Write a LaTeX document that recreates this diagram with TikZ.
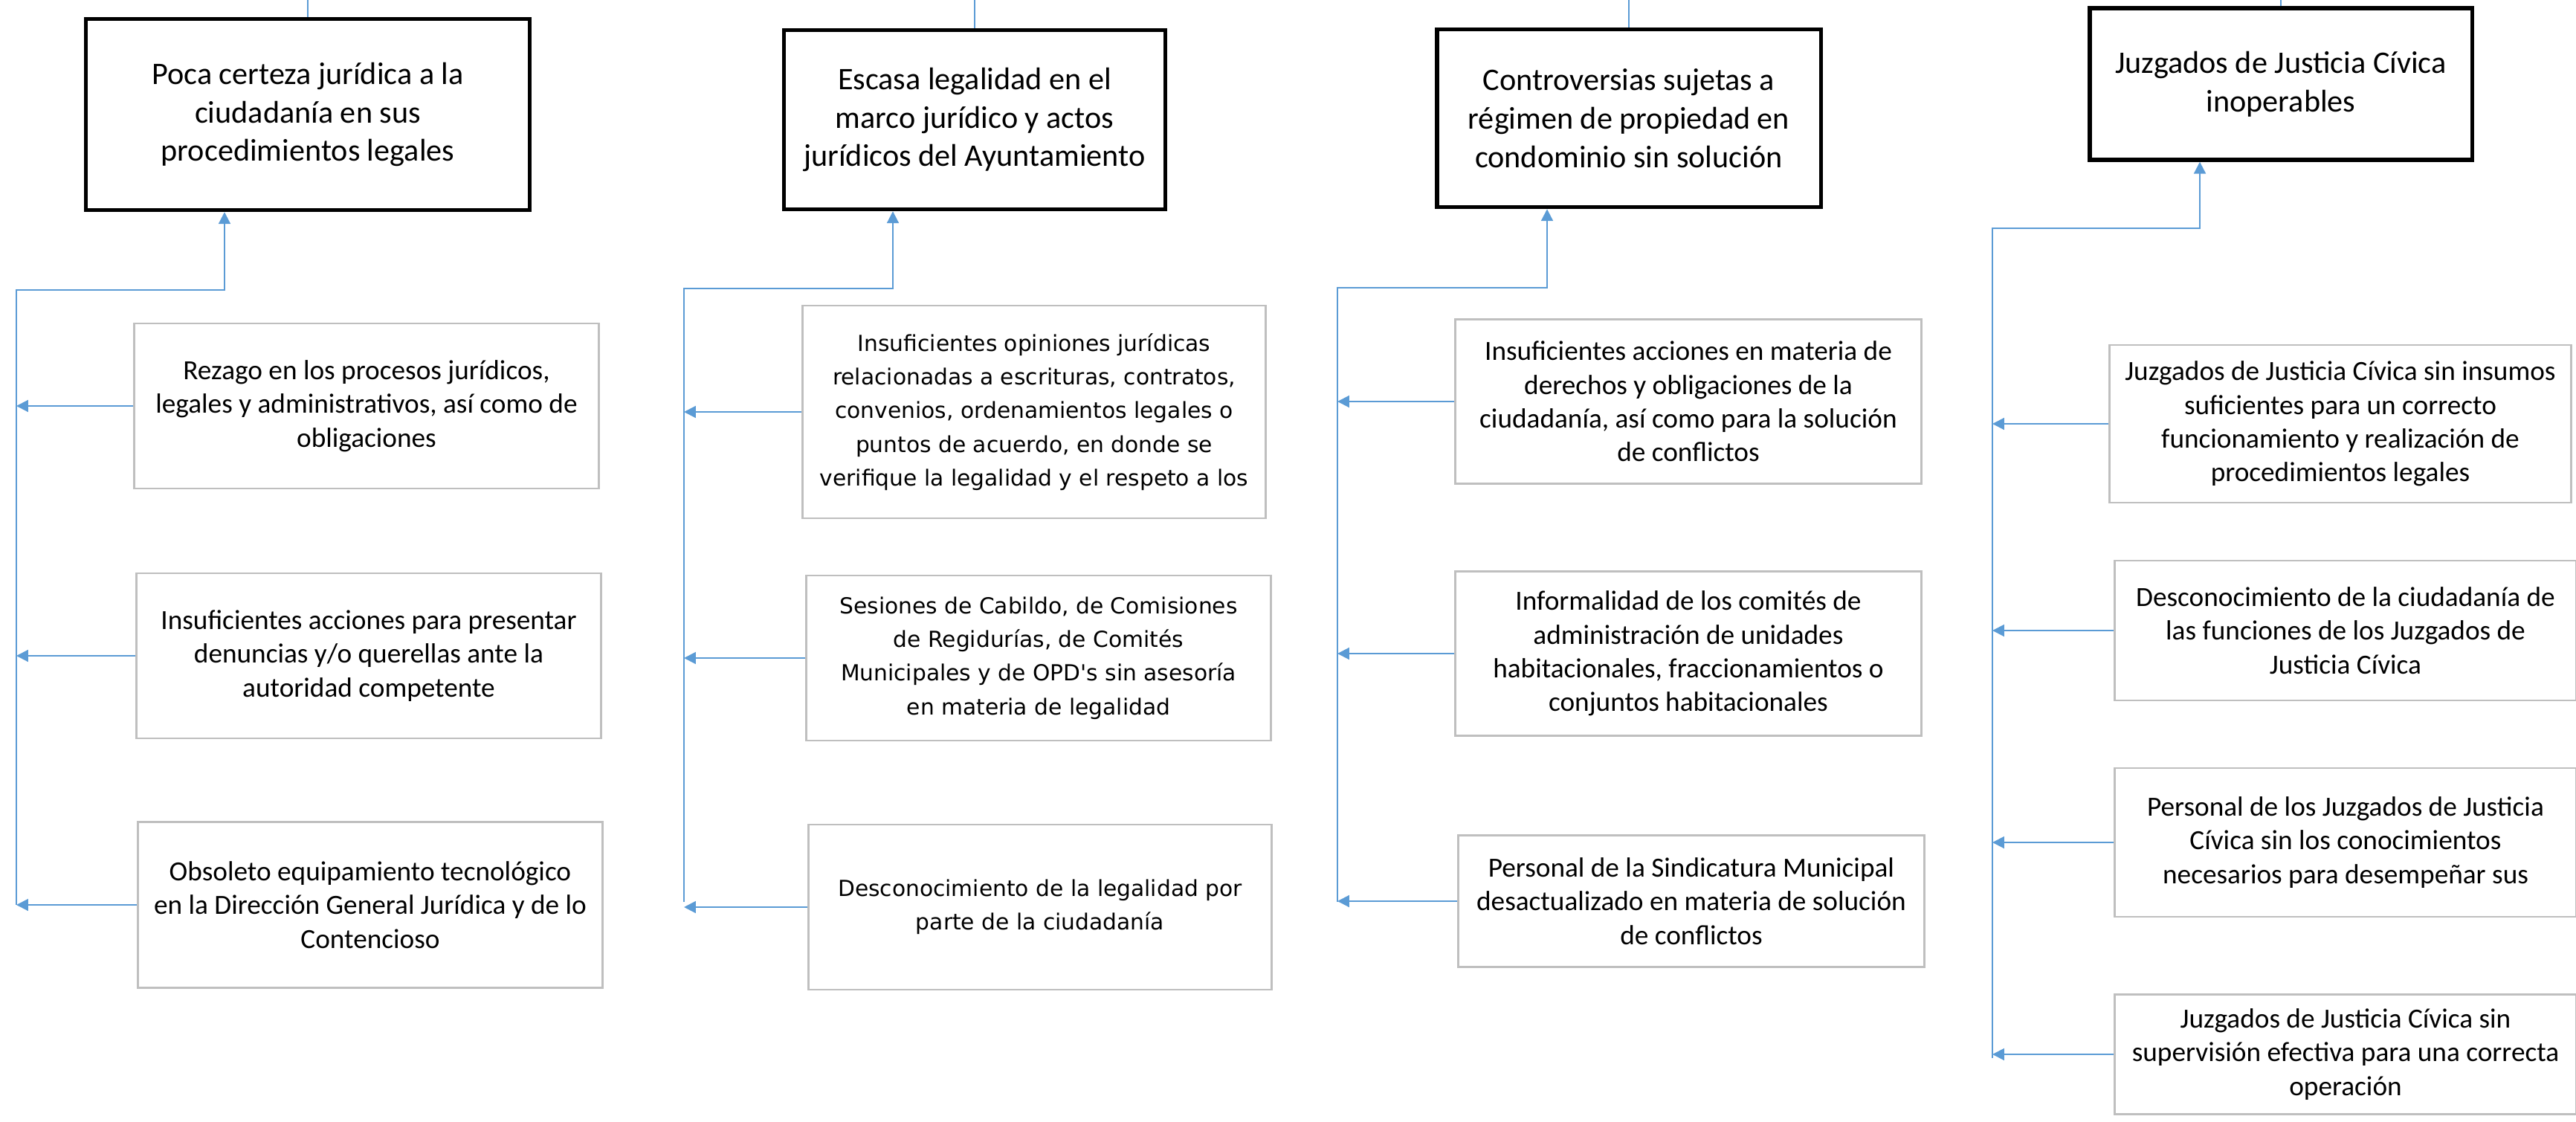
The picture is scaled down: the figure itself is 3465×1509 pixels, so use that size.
\documentclass[tikz,border=0pt]{standalone}
\usepackage{fontspec}
\setmainfont{Carlito}
\newfontfamily\anchafont{DejaVu Sans}
\usetikzlibrary{arrows.meta}

\definecolor{azul}{HTML}{5B9BD5}
\definecolor{gris}{HTML}{BFBFBF}

\tikzset{
  efecto/.style={draw=black, line width=1.5pt, align=center, inner sep=2pt,
    font=\fontsize{12}{14.7}\selectfont},
  causa/.style={draw=gris, line width=0.8pt, align=center, inner sep=2pt,
    font=\fontsize{10.6}{12.9}\selectfont},
  ancha/.style={font=\anchafont\fontsize{8.45}{12.9}\selectfont},
  linea/.style={draw=azul, line width=0.6pt},
  flecha/.style={linea, -{Triangle[length=4.5pt,width=4.5pt]}}
}

\begin{document}
\begin{tikzpicture}[x=0.01cm, y=-0.01cm]
  \useasboundingbox (0,0) rectangle (3465,1509);
  \coordinate (borde) at (0,0);

  % Efectos (cajas de borde grueso)
  \node[efecto, minimum width=5.97cm, minimum height=2.57cm] (e1) at (414,154)
    {Poca certeza jurídica a la\\ ciudadanía en sus\\ procedimientos legales};
  \node[efecto, minimum width=5.13cm, minimum height=2.41cm] (e2) at (1311,161)
    {Escasa legalidad en el\\ marco jurídico y actos\\ jurídicos del Ayuntamiento};
  \node[efecto, minimum width=5.16cm, minimum height=2.39cm] (e3) at (2191,159)
    {Controversias sujetas a\\ régimen de propiedad en\\ condominio sin solución};
  \node[efecto, minimum width=5.14cm, minimum height=2.04cm] (e4) at (3068,113)
    {Juzgados de Justicia Cívica\\ inoperables};

  % Causas, columna 1
  \node[causa, minimum width=6.25cm, minimum height=2.22cm] (c11) at (493,546)
    {Rezago en los procesos jurídicos,\\ legales y administrativos, así como de\\ obligaciones};
  \node[causa, minimum width=6.25cm, minimum height=2.22cm] (c12) at (496,882)
    {Insuficientes acciones para presentar\\ denuncias y/o querellas ante la\\ autoridad competente};
  \node[causa, minimum width=6.25cm, minimum height=2.23cm] (c13) at (498,1217)
    {Obsoleto equipamiento tecnológico\\ en la Dirección General Jurídica y de lo\\ Contencioso};

  % Causas, columna 2
  \node[causa, ancha, minimum width=6.23cm, minimum height=2.86cm] (c21) at (1391,554)
    {Insuficientes opiniones jurídicas\\ relacionadas a escrituras, contratos,\\
     convenios, ordenamientos legales o\\ puntos de acuerdo, en donde se\\
     verifique la legalidad y el respeto a los};
  \node[causa, ancha, minimum width=6.24cm, minimum height=2.22cm] (c22) at (1397,885)
    {Sesiones de Cabildo, de Comisiones\\ de Regidurías, de Comités\\
     Municipales y de OPD's sin asesoría\\ en materia de legalidad};
  \node[causa, ancha, minimum width=6.23cm, minimum height=2.22cm] (c23) at (1399,1220)
    {Desconocimiento de la legalidad por\\ parte de la ciudadanía};

  % Causas, columna 3
  \node[causa, minimum width=6.26cm, minimum height=2.21cm] (c31) at (2271,540)
    {Insuficientes acciones en materia de\\ derechos y obligaciones de la\\
     ciudadanía, así como para la solución\\ de conflictos};
  \node[causa, minimum width=6.26cm, minimum height=2.21cm] (c32) at (2271,879)
    {Informalidad de los comités de\\ administración de unidades\\
     habitacionales, fraccionamientos o\\ conjuntos habitacionales};
  \node[causa, minimum width=6.27cm, minimum height=1.77cm] (c33) at (2275,1212)
    {Personal de la Sindicatura Municipal\\ desactualizado en materia de solución\\ de conflictos};

  % Causas, columna 4
  \node[causa, minimum width=6.21cm, minimum height=2.12cm] (c41) at (3148,570)
    {Juzgados de Justicia Cívica sin insumos\\ suficientes para un correcto\\
     funcionamiento y realización de\\ procedimientos legales};
  \node[causa, minimum width=6.21cm, minimum height=1.88cm] (c42) at (3155,848)
    {Desconocimiento de la ciudadanía de\\ las funciones de los Juzgados de\\ Justicia Cívica};
  \node[causa, minimum width=6.21cm, minimum height=2.00cm] (c43) at (3155,1133)
    {Personal de los Juzgados de Justicia\\ Cívica sin los conocimientos\\ necesarios para desempeñar sus};
  \node[causa, minimum width=6.21cm, minimum height=1.61cm] (c44) at (3155,1418)
    {Juzgados de Justicia Cívica sin\\ supervisión efectiva para una correcta\\ operación};

  % Puntos de los conectores (pie del tronco y codo)
  \coordinate (t1) at (22,1217);   \coordinate (k1) at (302,390);
  \coordinate (t2) at (920,1213);  \coordinate (k2) at (1201,388);
  \coordinate (t3) at (1799,1213); \coordinate (k3) at (2081,387);
  \coordinate (t4) at (2680,1423); \coordinate (k4) at (2959,307);

  % Troncos hacia cada efecto y lineas superiores cortadas
  \foreach \i in {1,...,4}{
    \draw[flecha] (t\i) |- (k\i) -- (k\i |- e\i.south);
    \draw[linea] (e\i.north) -- (e\i.north |- borde);
  }

  % Ramas de cada causa al tronco
  \foreach \c/\t in {c11/t1, c12/t1, c13/t1, c21/t2, c22/t2, c23/t2,
                     c31/t3, c32/t3, c33/t3, c41/t4, c42/t4, c43/t4, c44/t4}{
    \draw[flecha] (\c.west) -- (\c.west -| \t);
  }
\end{tikzpicture}
\end{document}
